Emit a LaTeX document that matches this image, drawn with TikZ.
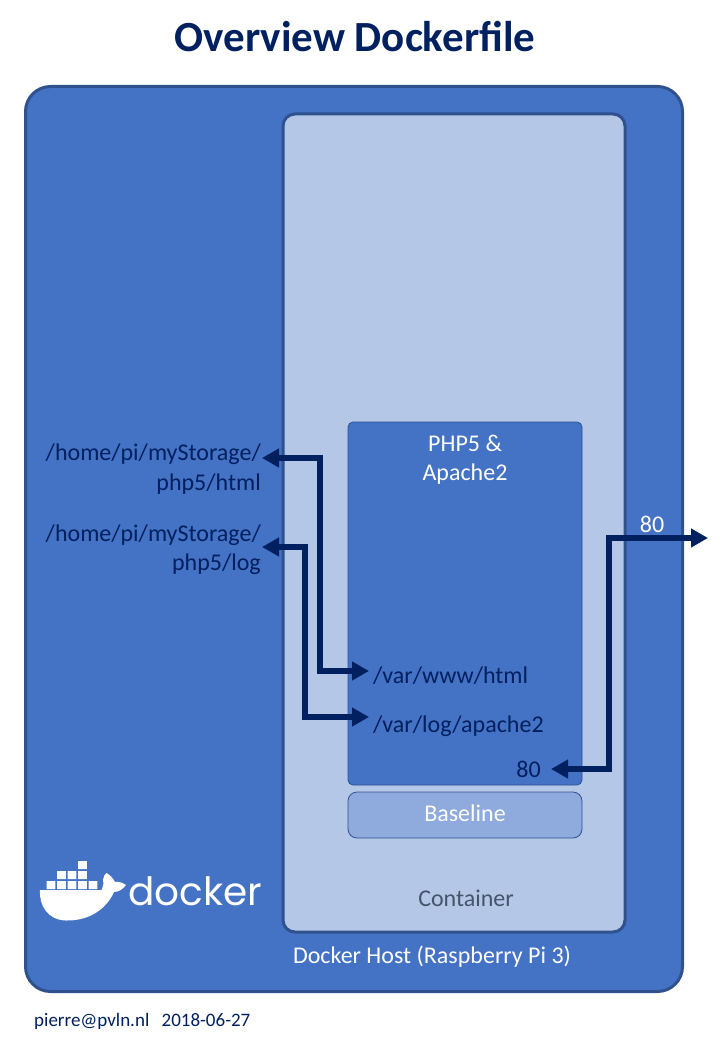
\documentclass[tikz,border=0pt]{standalone}
\usepackage{fontspec}
\setmainfont{Carlito}
\newfontfamily\logofont{Poppins}
\usetikzlibrary{arrows.meta}
\definecolor{hostblue}{HTML}{4472C4}
\definecolor{edgeblue}{HTML}{2F528F}
\definecolor{paleblue}{HTML}{B4C7E7}
\definecolor{midblue}{HTML}{8FAADC}
\definecolor{navy}{HTML}{002060}
\definecolor{slategrey}{HTML}{44546A}
\def\crate#1#2{(#1,#2) rectangle +(8.6,8.2)}
\tikzset{
    panel/.style={draw=edgeblue,line width=3pt,rounded corners=#1,inner sep=0pt},
    part/.style={draw=edgeblue,line width=0.8pt,rounded corners=#1,inner sep=0pt},
    lbl/.style={inner sep=0pt,text=navy,font=\fontsize{24}{29.3}\selectfont},
    wlbl/.style={inner sep=0pt,text=white,font=\fontsize{24}{29.3}\selectfont},
    link/.style={draw=navy,line width=6pt,{Triangle[length=17pt,width=18pt]}-{Triangle[length=17pt,width=18pt]}}
}
\begin{document}
\begin{tikzpicture}[x=1pt,y=-1pt]
    \useasboundingbox (0,0) rectangle (720,1040);

    \node[inner sep=0pt,text=navy,font=\bfseries\fontsize{43}{50}\selectfont] (title) at (355,37) {Overview Dockerfile};

    \node[panel=25pt,fill=hostblue,minimum width=657pt,minimum height=905pt] (host) at (354,539) {};
    \node[panel=12pt,fill=paleblue,minimum width=342pt,minimum height=818pt] (container) at (454,523) {};
    \node[part=5pt,fill=hostblue,minimum width=234pt,minimum height=363pt] (php) at (465,603.5) {};
    \node[part=9pt,fill=midblue,minimum width=234pt,minimum height=46pt] (baseline) at (465,815) {};

    \node[wlbl,align=center] (phpname) at (465,460) {PHP5 \&\\Apache2};
    \node[wlbl] (baselinename) at (465,813) {Baseline};
    \node[wlbl,text=slategrey] (containername) at (466,898) {Container};
    \node[wlbl] (hostname) at (432,957) {Docker Host (Raspberry Pi 3)};

    \node[lbl,anchor=east,align=right] (htmlhome) at (261,469) {/home/pi/myStorage/\\php5/html};
    \node[lbl,anchor=east,align=right] (loghome) at (261,550) {/home/pi/myStorage/\\php5/log};
    \node[lbl,anchor=west] (wwwdir) at (373,676) {/var/www/html};
    \node[lbl,anchor=west] (logdir) at (373,726) {/var/log/apache2};
    \node[lbl,anchor=east] (portin) at (541,769) {80};
    \node[wlbl] (portout) at (652,524) {80};

    \coordinate (wwwbend) at (320,458);
    \coordinate (logbend) at (305,547);
    \coordinate (portbend) at (608.5,538);
    \coordinate (portend) at (708,538);

    \draw[link] ([xshift=-4pt,yshift=5pt]wwwdir.west) -| (wwwbend) -- ([xshift=1pt,yshift=11pt]htmlhome.east);
    \draw[link] ([xshift=-4pt,yshift=9pt]logdir.west) -| (logbend) -- ([xshift=1pt,yshift=3pt]loghome.east);
    \draw[link] ([xshift=10pt]portin.east) -| (portbend) -- (portend);

    % logo
    \fill[white] \crate{46.7}{881} \crate{57.2}{881} \crate{67.7}{881} \crate{78.2}{881} \crate{88.7}{881}
                 \crate{57.2}{871} \crate{67.7}{871} \crate{78.2}{871} \crate{78.2}{861};
    \fill[white] (40,890) -- (101.5,890) .. controls (103,887) and (104,884) .. (103,880)
                 .. controls (103,877) and (105,874) .. (106.5,873)
                 .. controls (110,875) and (113,878) .. (115,882)
                 .. controls (119,881) and (123,883) .. (126,885)
                 .. controls (123,889) and (119,892) .. (114,892)
                 .. controls (106,910) and (88,921) .. (66,920.5)
                 .. controls (48,920) and (39,906) .. (40,890) -- cycle;
    \node[inner sep=0pt,text=white,font=\logofont\fontsize{39}{45}\selectfont,anchor=base west] (logoname) at (128,905) {docker};

    \node[inner sep=0pt,anchor=base west,text=navy,font=\fontsize{19}{23}\selectfont] (footer) at (34,1026) {pierre@pvln.nl\hspace{8pt} 2018-06-27};
\end{tikzpicture}
\end{document}
